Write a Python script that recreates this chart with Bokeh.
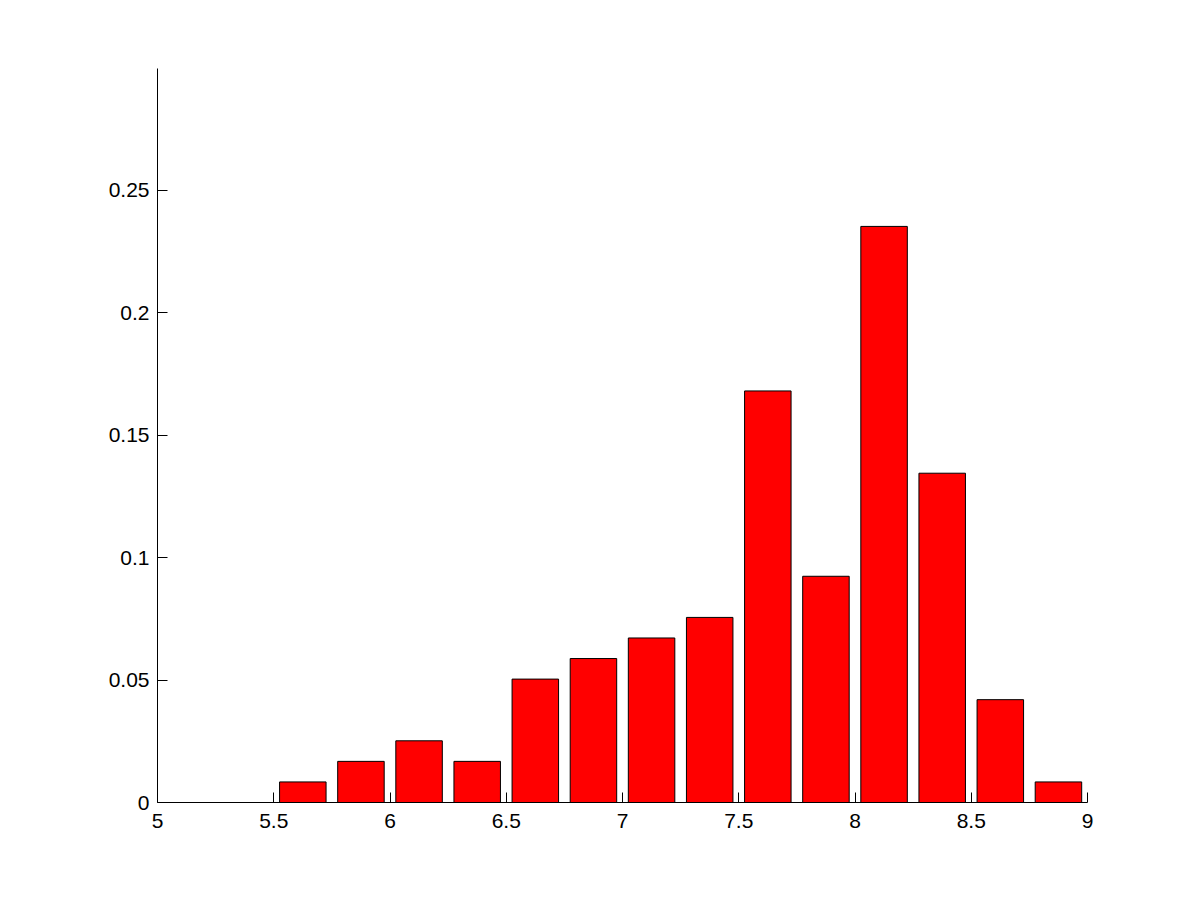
from bokeh.plotting import figure
from bokeh.models import FixedTicker, Range1d
from bokeh.embed import file_html
from bokeh.resources import INLINE

# Data
bin_centers = [5.125, 5.375, 5.625, 5.875, 6.125, 6.375, 6.625, 6.875,
               7.125, 7.375, 7.625, 7.875, 8.125, 8.375, 8.625, 8.875]
frequencies = [0.0, 0.0, 0.0084, 0.0168, 0.0252, 0.0168, 0.0504, 0.0588,
               0.0672, 0.0756, 0.1681, 0.0924, 0.2353, 0.1345, 0.0420, 0.0084]
x_ticks = [5, 5.5, 6, 6.5, 7, 7.5, 8, 8.5, 9]
y_ticks = [0, 0.05, 0.1, 0.15, 0.2, 0.25]

p = figure(width=1185, height=885, output_backend="svg", toolbar_location=None,
           x_range=Range1d(5, 9), y_range=Range1d(0, 0.2998),
           min_border_left=157, min_border_right=98,
           min_border_top=68, min_border_bottom=83)
p.outline_line_color = None
p.grid.visible = False
p.background_fill_color = "white"
p.border_fill_color = "white"

p.vbar(x=bin_centers, top=frequencies, bottom=0, width=0.2,
       fill_color="#ff0000", line_color="black", line_width=1)

for ax in (p.xaxis[0], p.yaxis[0]):
    ax.axis_line_color = "black"
    ax.axis_line_width = 1
    ax.major_tick_in = 10
    ax.major_tick_out = 0
    ax.minor_tick_in = 0
    ax.minor_tick_out = 0
    ax.major_tick_line_color = "black"
    ax.major_label_text_font = "Liberation Sans"
    ax.major_label_text_font_size = "21px"
    ax.major_label_text_color = "black"

p.xaxis[0].ticker = FixedTicker(ticks=x_ticks)
p.yaxis[0].ticker = FixedTicker(ticks=y_ticks)
p.xaxis[0].major_label_standoff = 11
p.yaxis[0].major_label_standoff = 8
p.xaxis[0].major_label_overrides = {5: "5", 6: "6", 7: "7", 8: "8", 9: "9"}
p.yaxis[0].major_label_overrides = {0: "0"}

open("out.html", "w").write(file_html(p, INLINE))
